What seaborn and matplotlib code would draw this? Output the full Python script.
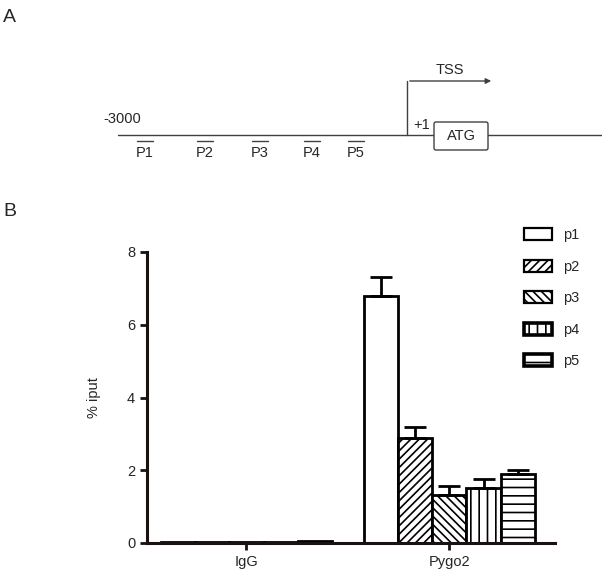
import numpy as np
import pandas as pd
import matplotlib
matplotlib.use('Agg')
import matplotlib.pyplot as plt
import matplotlib.patches as mpatches
import seaborn as sns

# ---- data ----
groups = ['IgG', 'Pygo2']
primers = ['p1', 'p2', 'p3', 'p4', 'p5']
igg_values = [0.03, 0.04, 0.02, 0.04, 0.06]
igg_err = [0.0, 0.0, 0.0, 0.0, 0.0]
pygo2_values = [6.79, 2.88, 1.32, 1.51, 1.89]
pygo2_err = [0.53, 0.30, 0.25, 0.25, 0.13]
hatches = ['', '////', '\\\\\\\\', '||', '--']
legend_lw = [1.6, 1.6, 1.6, 2.6, 2.6]

# promoter schematic labels
site_labels = ['P1', 'P2', 'P3', 'P4', 'P5']
site_x = [145, 205, 260, 312, 356]

df = pd.DataFrame({
    'group': np.repeat(groups, len(primers)),
    'primer': primers * len(groups),
    'value': igg_values + pygo2_values,
    'err': igg_err + pygo2_err,
})

sns.set_style("ticks")
plt.rcParams['font.family'] = ['Liberation Sans', 'DejaVu Sans']
plt.rcParams['hatch.linewidth'] = 1.2

fig = plt.figure(figsize=(6.02, 5.74), dpi=100)
W, H = 602, 574

# ---- panel A: promoter schematic ----
axa = fig.add_axes([0, 1 - 200 / H, 1, 200 / H])
axa.set_xlim(0, W)
axa.set_ylim(200, 0)
axa.axis('off')
lc = '#404040'
axa.plot([118, 602], [135, 135], color=lc, lw=1)
axa.text(103, 126, '-3000', fontsize=10.5, va='bottom', ha='left')
for lab, x in zip(site_labels, site_x):
    axa.plot([x - 8, x + 8], [141, 141], color=lc, lw=1)
    axa.text(x, 146, lab, fontsize=10.5, ha='center', va='top')
axa.plot([407, 407], [135, 81], color=lc, lw=1)
axa.annotate('', xy=(494, 81), xytext=(407, 81),
             arrowprops=dict(arrowstyle='-|>', color=lc, lw=1, mutation_scale=8))
axa.text(450, 77, 'TSS', fontsize=10.5, ha='center', va='bottom')
axa.text(413, 132, '+1', fontsize=10.5, ha='left', va='bottom')
box = mpatches.FancyBboxPatch((434, 122), 54, 28, boxstyle='round,pad=0,rounding_size=2',
                              facecolor='white', edgecolor=lc, lw=1, zorder=3)
axa.add_patch(box)
axa.text(461, 136, 'ATG', fontsize=10.5, ha='center', va='center', zorder=4)

fig.text(3 / W, 1 - 22 / H, 'A', fontsize=14)
fig.text(3 / W, 1 - 216 / H, 'B', fontsize=14)

# ---- panel B: ChIP bar chart ----
ax = fig.add_axes([147 / W, (H - 543) / H, (555 - 147) / W, (543 - 252) / H])
sns.barplot(data=df, x='group', y='value', hue='primer', order=groups,
            hue_order=primers, width=0.84, palette=['white'] * 5,
            edgecolor='black', linewidth=2, errorbar=None, legend=False, ax=ax)

for cont, h, prim in zip(ax.containers, hatches, primers):
    sub = df[df['primer'] == prim]
    for bar, (_, row) in zip(cont, sub.iterrows()):
        bar.set_hatch(h)
        bar.set_edgecolor('black')
        if row['err'] > 0:
            xc = bar.get_x() + bar.get_width() / 2
            ax.errorbar(xc, row['value'], yerr=[[0], [row['err']]], color='black',
                        elinewidth=2, capsize=8, capthick=2, zorder=1)

ax.set_xlim(-0.49, 1.52)
ax.set_ylim(0, 8)
ax.set_yticks([0, 2, 4, 6, 8])
ax.set_xlabel('')
ax.set_ylabel('% iput', fontsize=10.5, labelpad=19)
sns.despine(ax=ax)
for s in ['left', 'bottom']:
    ax.spines[s].set_linewidth(2.2)
    ax.spines[s].set_color('#1a1111')
ax.tick_params(axis='both', width=2, length=5, labelsize=10.5, color='#1a1111')

handles = [mpatches.Patch(facecolor='white', edgecolor='black', hatch=h, lw=w)
           for h, w in zip(hatches, legend_lw)]
fig.legend(handles, primers, loc='upper left', bbox_to_anchor=(524 / W, 1 - 228 / H),
           frameon=False, fontsize=10.5, handlelength=1.9, handleheight=0.9,
           labelspacing=1.2, handletextpad=0.8, borderpad=0, borderaxespad=0)

fig.savefig('out.png', dpi=100)
